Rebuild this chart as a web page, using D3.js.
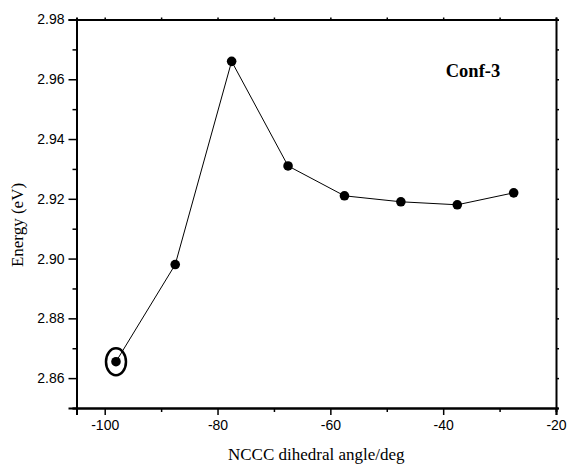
<!DOCTYPE html>
<html>
<head>
<meta charset="utf-8">
<script src="https://cdn.jsdelivr.net/npm/d3@7"></script>
<style>
  body { margin: 0; background: #fff; }
  svg { display: block; }
</style>
</head>
<body>
<div id="chart"></div>
<script>
// dihedral angle scan, Conf-3
const angles = [-98, -87.5, -77.5, -67.5, -57.5, -47.5, -37.5, -27.5];
const energies = [2.8655, 2.898, 2.966, 2.931, 2.921, 2.919, 2.918, 2.922];
const xTicks = [-100, -80, -60, -40, -20];
const yTicks = [2.86, 2.88, 2.90, 2.92, 2.94, 2.96, 2.98];
const xMinor = [-90, -70, -50, -30];
const yMinor = [2.85, 2.87, 2.89, 2.91, 2.93, 2.95, 2.97];

const width = 569;
const height = 466;
const margin = { top: 19.5, left: 76.5, bottom: 58, right: 13 };
const plotWidth = width - margin.left - margin.right;
const plotHeight = height - margin.top - margin.bottom;

const svg = d3.select("#chart")
  .append("svg")
  .attr("width", width)
  .attr("height", height);

const xScale = d3.scaleLinear().domain([-105, -20]).range([0, plotWidth]);
const yScale = d3.scaleLinear().domain([2.85, 2.98]).range([plotHeight, 0]);

const plotG = svg.append("g")
  .attr("transform", `translate(${margin.left},${margin.top})`);

// axes: labelled bottom/left, ticks only on top/right
const xAxis = d3.axisBottom(xScale).tickValues(xTicks).tickSize(7).tickPadding(5)
  .tickFormat(d => String(d));
const yAxis = d3.axisLeft(yScale).tickValues(yTicks).tickSize(8).tickPadding(4)
  .tickFormat(d => d.toFixed(2));

const xAxisG = plotG.append("g")
  .attr("transform", `translate(0,${plotHeight})`)
  .call(xAxis);
const yAxisG = plotG.append("g").call(yAxis);

plotG.append("g")
  .attr("transform", `translate(0,${plotHeight})`)
  .call(d3.axisBottom(xScale).tickValues(xMinor).tickSize(4).tickFormat(""));
plotG.append("g")
  .call(d3.axisLeft(yScale).tickValues(yMinor).tickSize(4).tickFormat(""));

plotG.append("g")
  .call(d3.axisTop(xScale).tickValues(xTicks.concat(xMinor)).tickSize(2).tickFormat(""));
plotG.append("g")
  .attr("transform", `translate(${plotWidth},0)`)
  .call(d3.axisRight(yScale).tickValues(yTicks.concat(yMinor)).tickSize(3).tickFormat(""));

plotG.selectAll(".domain")
  .attr("stroke", "#000")
  .attr("stroke-width", 2);
plotG.selectAll(".tick line")
  .attr("stroke", "#000")
  .attr("stroke-width", 1.5);
plotG.selectAll(".tick text")
  .attr("font-family", "'Liberation Sans', Arial, sans-serif")
  .attr("font-size", 14)
  .attr("fill", "#000");

// data line + markers
const line = d3.line()
  .x((d, i) => xScale(angles[i]))
  .y(d => yScale(d));

plotG.append("path")
  .datum(energies)
  .attr("d", line)
  .attr("fill", "none")
  .attr("stroke", "#000")
  .attr("stroke-width", 1);

plotG.selectAll("circle.pt")
  .data(energies)
  .enter()
  .append("circle")
  .attr("class", "pt")
  .attr("cx", (d, i) => xScale(angles[i]))
  .attr("cy", d => yScale(d))
  .attr("r", 4.8)
  .attr("fill", "#000");

// ring around the first point
plotG.append("ellipse")
  .attr("cx", xScale(angles[0]))
  .attr("cy", yScale(energies[0]))
  .attr("rx", 10)
  .attr("ry", 13.5)
  .attr("fill", "none")
  .attr("stroke", "#000")
  .attr("stroke-width", 2.5);

// labels
svg.append("text")
  .attr("x", margin.left + plotWidth / 2)
  .attr("y", 460)
  .attr("text-anchor", "middle")
  .attr("font-family", "'Liberation Serif', 'Times New Roman', serif")
  .attr("font-size", 17)
  .text("NCCC dihedral angle/deg");

svg.append("text")
  .attr("transform", "translate(23,225) rotate(-90)")
  .attr("text-anchor", "middle")
  .attr("font-family", "'Liberation Serif', 'Times New Roman', serif")
  .attr("font-size", 17)
  .text("Energy (eV)");

svg.append("text")
  .attr("x", 473)
  .attr("y", 77)
  .attr("text-anchor", "middle")
  .attr("font-family", "'Liberation Serif', 'Times New Roman', serif")
  .attr("font-weight", "bold")
  .attr("font-size", 18.5)
  .text("Conf-3");
</script>
</body>
</html>
